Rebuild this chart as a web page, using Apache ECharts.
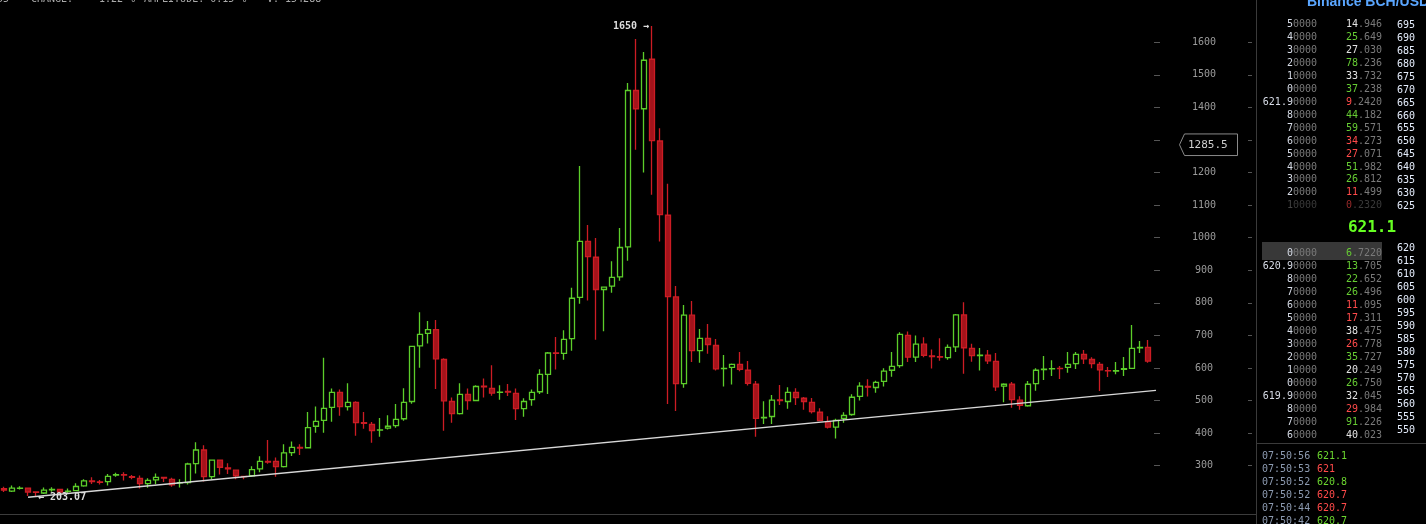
<!DOCTYPE html>
<html><head><meta charset="utf-8">
<script src="https://cdn.jsdelivr.net/npm/echarts@6/dist/echarts.min.js"></script>
<style>html,body{margin:0;padding:0;background:#000;overflow:hidden}#c{width:1426px;height:524px}</style>
</head><body><div id="c"></div>
<script>
// ---- candle data (index 0..143) ----
const opens  = [229,222,230,231,219,216,226,227,221,223,238,253,250,251,271,272,266,261,245,256,264,258,247,248,306,348,266,317,293,286,267,269,290,313,313,297,340,356,355,421,439,479,525,481,494,432,427,409,415,423,444,497,668,706,718,626,497,460,519,500,544,537,525,528,522,475,503,527,580,646,645,690,817,989,940,841,851,880,972,1452,1396,1548,1297,1069,818,552,762,653,691,669,598,602,611,593,550,447,451,502,497,525,507,494,464,435,418,445,457,513,543,540,559,593,607,700,633,673,637,635,632,665,763,660,638,639,620,544,550,501,484,552,595,597,599,602,613,642,626,611,592,590,596,599,662,663];
const closes = [225,231,231,219,218,225,227,219,222,236,253,251,249,267,272,271,264,245,255,264,262,241,248,305,348,266,317,295,290,269,266,288,313,311,297,339,356,354,417,436,476,525,481,494,432,430,408,410,421,442,494,666,703,718,628,499,460,519,500,543,542,523,526,526,475,497,525,580,646,645,688,814,989,942,841,848,878,970,1452,1396,1545,1298,1071,819,552,762,653,691,672,597,599,611,596,553,445,448,501,500,525,509,497,466,438,418,439,454,510,544,541,556,590,605,703,633,673,639,635,633,663,763,662,638,639,622,542,550,503,485,550,593,596,598,598,611,642,628,613,594,591,592,598,660,663,621];
const lows   = [219,219,227,207,207,213,220,218,215,222,235,244,242,239,266,254,258,230,232,243,250,235,233,242,276,251,258,273,274,258,258,266,280,306,266,294,330,333,354,401,401,435,453,469,392,413,370,389,411,416,438,490,601,675,535,407,432,457,472,498,509,515,502,514,440,450,484,520,520,595,625,653,797,807,687,713,831,868,929,1270,1200,1132,988,489,468,539,618,616,644,592,543,549,590,546,389,428,428,486,475,486,472,460,436,414,383,432,453,500,512,524,543,573,601,618,618,633,598,622,625,649,582,619,592,612,529,495,478,472,481,530,563,575,566,585,597,612,599,529,572,581,575,597,646,616];
const highs  = [235,239,237,232,220,233,234,228,230,246,258,264,256,274,278,280,271,270,261,276,265,263,258,309,372,363,319,319,307,287,267,298,329,379,325,366,374,366,465,482,631,537,534,553,498,465,434,446,455,489,538,668,771,744,747,630,509,553,537,547,568,608,547,551,537,507,534,596,649,695,716,846,1220,1039,999,848,928,1030,1475,1610,1570,1650,1336,1166,852,793,806,720,735,689,640,614,649,621,560,498,517,548,541,538,511,508,476,452,444,464,519,556,565,561,599,649,710,712,700,694,657,691,672,766,802,674,661,655,646,553,557,513,560,599,637,624,606,649,649,655,633,618,603,618,634,732,683,686];
const yTicks = [300,400,500,600,700,800,900,1000,1100,1200,1300,1400,1500,1600];
const trendStart = [3, 203.07];
const trendEnd = [144, 531];
const peakIndex = 81, peakValue = 1650;
const markerPrice = 1285.5;

// ---- order book ----
const askPrices  = ['50000','40000','30000','20000','10000','00000','621.90000','80000','70000','60000','50000','40000','30000','20000','10000'];
const askAmounts = ['14.946','25.649','27.030','78.236','33.732','37.238','9.2420','44.182','59.571','34.273','27.071','51.982','26.812','11.499','0.2320'];
const askSides   = ['w','g','w','g','w','g','r','g','g','r','r','g','g','r','r'];
const askLevels  = [695,690,685,680,675,670,665,660,655,650,645,640,635,630,625];
const lastPrice  = '621.1';
const bidPrices  = ['00000','620.90000','80000','70000','60000','50000','40000','30000','20000','10000','00000','619.90000','80000','70000','60000'];
const bidAmounts = ['6.7220','13.705','22.652','26.496','11.095','17.311','38.475','26.778','35.727','20.249','26.750','32.045','29.984','91.226','40.023'];
const bidSides   = ['g','g','g','g','r','r','w','r','g','w','g','w','r','g','w'];
const bidLevels  = [620,615,610,605,600,595,590,585,580,575,570,565,560,555,550];
const tradeTimes  = ['07:50:56','07:50:53','07:50:52','07:50:52','07:50:44','07:50:42'];
const tradePrices = ['621.1','621','620.8','620.7','620.7','620.7'];
const tradeSides  = ['g','r','g','r','r','g'];

const categories = [];
for (let i = 0; i < opens.length + 1; i++) categories.push(i);
const candles = opens.map((o, i) => [o, closes[i], lows[i], highs[i]]);
candles.push('-');

const GREEN = '#5ccd2a', RED = '#cc1c24', REDFILL = '#a3131b';
const MONO = '"DejaVu Sans Mono", "Liberation Mono", monospace';

const chart = echarts.init(document.getElementById('c'), null, {renderer: 'canvas'});
const yAxisBase = {
  type: 'value', min: 151.5, max: 1730, position: 'right', scale: true,
  splitLine: {show: false}, axisLine: {show: false}
};
chart.setOption({
  backgroundColor: '#000',
  animation: false,
  grid: {left: 0, right: 266, top: 0, height: 514, containLabel: false},
  xAxis: {type: 'category', data: categories, boundaryGap: true,
    axisLine: {show: false}, axisTick: {show: false}, axisLabel: {show: false}, splitLine: {show: false}},
  yAxis: [
    Object.assign({}, yAxisBase, {
      axisTick: {show: true, inside: true, length: 6, customValues: yTicks, lineStyle: {color: '#555'}},
      axisLabel: {show: true, customValues: yTicks, margin: 44, align: 'center', color: '#9a9a9a',
        fontFamily: MONO, fontSize: 10, formatter: v => String(v)}
    }),
    Object.assign({}, yAxisBase, {
      offset: 92,
      axisTick: {show: true, inside: true, length: 4, customValues: yTicks, lineStyle: {color: '#555'}},
      axisLabel: {show: false}
    })
  ],
  series: [
    {
      type: 'candlestick', data: candles, barWidth: 5,
      itemStyle: {color: '#000', color0: REDFILL, borderColor: GREEN, borderColor0: RED, borderWidth: 1.3},
      markPoint: {
        symbol: 'circle', symbolSize: 0,
        label: {show: true, color: '#dcdcdc', fontFamily: MONO, fontSize: 10, fontWeight: 'bold'},
        data: [
          {coord: [peakIndex, peakValue], label: {formatter: peakValue + ' →', position: 'left', distance: 3}},
          {coord: [trendStart[0], trendStart[1]], label: {formatter: '← ' + trendStart[1].toFixed(2), position: 'right', distance: 10}}
        ]
      }
    },
    {
      type: 'line', data: [trendStart, trendEnd], symbol: 'none', silent: true,
      lineStyle: {color: '#d8d8d8', width: 1.4}
    }
  ]
});

// ---- overlay graphics ----
const g = [];
const colorOf = s => s === 'g' ? '#66cc33' : s === 'r' ? '#ff4a4a' : '#e2e2e2';
function txt(x, y, text, fill, font, align, z) {
  g.push({type: 'text', z: z || 10, silent: true,
    style: {x, y, text, fill, font, align: align || 'left', verticalAlign: 'middle'}});
}
function richRow(x, y, bright, dim, brightColor, dimColor) {
  g.push({type: 'text', z: 10, silent: true,
    style: {x, y, text: '{a|' + bright + '}{b|' + dim + '}', align: 'right', verticalAlign: 'middle',
      font: '10px ' + MONO,
      rich: {a: {fill: brightColor, fontSize: 10, fontFamily: MONO}, b: {fill: dimColor, fontSize: 10, fontFamily: MONO}}}});
}
// header (mostly cut off)
const hdrFont = '10px ' + MONO;
txt(-3, -1, '55', '#aaa', hdrFont);
txt(31, -1, 'CHANGE:', '#aaa', hdrFont);
txt(93, -1, '-1.22 %', '#aaa', hdrFont);
txt(144, -1, 'AMPLITUDE: 0.15 %', '#aaa', hdrFont);
txt(267, -1, 'V: 154288', '#aaa', hdrFont);

// separators
g.push({type: 'line', z: 5, silent: true, shape: {x1: 0, y1: 514.5, x2: 1256, y2: 514.5}, style: {stroke: '#3c3c3c', lineWidth: 1}});
g.push({type: 'line', z: 5, silent: true, shape: {x1: 1256.5, y1: 0, x2: 1256.5, y2: 524}, style: {stroke: '#3a3a3a', lineWidth: 1}});

// title
g.push({type: 'text', z: 10, silent: true, style: {x: 1307, y: 2, text: 'Binance BCH/USD', fill: '#5aa6ff',
  font: 'bold 14px "Liberation Sans", Arial, sans-serif', align: 'left', verticalAlign: 'middle'}});

// asks
const rowH = 12.95;
askPrices.forEach((p, i) => {
  const y = 24.5 + i * rowH;
  const faded = i === askPrices.length - 1;
  richRow(1317, y, p.slice(0, p.length - 4), p.slice(-4), faded ? '#444' : '#d6dbe6', faded ? '#3a3a3a' : '#7a7a7a');
  const a = askAmounts[i], k = a.indexOf('.');
  richRow(1382, y, a.slice(0, k), a.slice(k), faded ? '#992a2a' : colorOf(askSides[i]), faded ? '#3a3a3a' : '#7a7a7a');
  txt(1397, 25.3 + i * rowH, String(askLevels[i]), '#e4ecfb', '10px ' + MONO);
});
// last price
g.push({type: 'text', z: 10, silent: true, style: {x: 1372, y: 228, text: lastPrice, fill: '#66ff22',
  font: 'bold 16px "DejaVu Sans Mono", monospace', align: 'center', verticalAlign: 'middle'}});
// highlight row
g.push({type: 'rect', z: 8, silent: true, shape: {x: 1262, y: 242, width: 120, height: 18}, style: {fill: '#383838'}});
// bids
bidPrices.forEach((p, i) => {
  const y = 253.7 + i * rowH;
  richRow(1317, y, p.slice(0, p.length - 4), p.slice(-4), '#d6dbe6', '#7a7a7a');
  const a = bidAmounts[i], k = a.indexOf('.');
  richRow(1382, y, a.slice(0, k), a.slice(k), colorOf(bidSides[i]), '#7a7a7a');
});
bidLevels.forEach((l, i) => txt(1397, 248.3 + i * 13, String(l), '#e4ecfb', '10px ' + MONO));
// clip bottom of bids
g.push({type: 'rect', z: 20, silent: true, shape: {x: 1257, y: 438, width: 170, height: 5}, style: {fill: '#000'}});
g.push({type: 'line', z: 21, silent: true, shape: {x1: 1257, y1: 443.5, x2: 1426, y2: 443.5}, style: {stroke: '#3a3a3a', lineWidth: 1}});
// trades
tradeTimes.forEach((t, i) => {
  const y = 456.7 + i * 12.9;
  txt(1262, y, t, '#8c9ab0', '10px ' + MONO);
  txt(1317, y, tradePrices[i], tradeSides[i] === 'g' ? '#6bd62f' : '#ff4a4a', '10px ' + MONO);
});

// price marker box
const my = chart.convertToPixel({yAxisIndex: 0}, markerPrice);
g.push({type: 'polygon', z: 30, silent: true,
  shape: {points: [[1179.5, my], [1184.5, my - 10.8], [1237.5, my - 10.8], [1237.5, my + 10.8], [1184.5, my + 10.8]]},
  style: {fill: '#000', stroke: '#8a8a8a', lineWidth: 1}});
txt(1188, my, String(markerPrice), '#cfcfcf', '11px ' + MONO, 'left', 31);

chart.setOption({graphic: g});
</script>
</body></html>
